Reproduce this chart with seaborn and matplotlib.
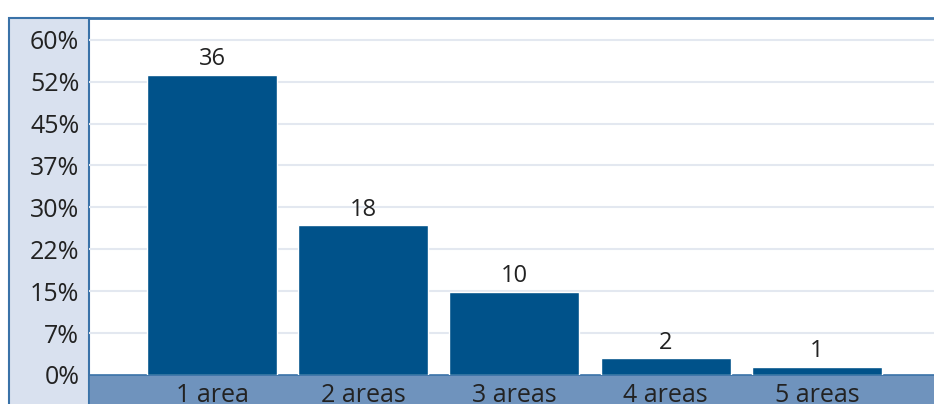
import pandas as pd
import numpy as np
import matplotlib.pyplot as plt
import matplotlib.patches as mpatches
import seaborn as sns

# data
categories = ["1 area", "2 areas", "3 areas", "4 areas", "5 areas"]
counts = [36, 18, 10, 2, 1]
total = 67
percents = [c / total * 100 for c in counts]
tick_vals = [0, 7.5, 15, 22.5, 30, 37.5, 45, 52.5, 60]
tick_labels = ["0%", "7%", "15%", "22%", "30%", "37%", "45%", "52%", "60%"]

df = pd.DataFrame({"Areas": categories, "Percent": percents, "Count": counts})

sns.set_style("white")
plt.rcParams['font.family'] = ['Open Sans', 'DejaVu Sans']

W, H = 934, 404
fig = plt.figure(figsize=(W / 100, H / 100), dpi=100)

bar_col = "#00528A"
panel_col = "#D9E1EF"
band_col = "#6F93BD"
edge_col = "#3A72A8"
text_col = "#222222"

def fx(px):
    return px / W

def fy(py):
    return 1 - py / H

# left light panel with tick labels
fig.patches.append(mpatches.Rectangle((fx(9), fy(420)), fx(80), (420 - 18) / H,
                                      transform=fig.transFigure, facecolor=panel_col,
                                      edgecolor=edge_col, linewidth=1.5, zorder=-2))
# bottom band behind x labels
fig.patches.append(mpatches.Rectangle((fx(89), fy(420)), fx(900), (420 - 375) / H,
                                      transform=fig.transFigure, facecolor=band_col,
                                      edgecolor=edge_col, linewidth=1.2, zorder=-2))

ax = fig.add_axes([fx(89), fy(375), fx(960 - 89), (375 - 18) / H])
ax.patch.set_alpha(0)

sns.barplot(data=df, x="Areas", y="Percent", color=bar_col, width=0.86,
            saturation=1, ax=ax, zorder=3)

ax.set_xlim(-0.813, 4.946)
ax.set_ylim(0, 63.9)
ax.set_yticks(tick_vals)
ax.set_yticklabels(tick_labels, fontsize=18, color=text_col)
for v in tick_vals[1:]:
    ax.axhline(v, color="#E3E8F0", linewidth=1.5, zorder=1)

ax.tick_params(axis="y", length=0, pad=7)
ax.tick_params(axis="x", length=0, pad=6, labelsize=18, labelcolor=text_col)
ax.set_xlabel("")
ax.set_ylabel("")
for s in ["left", "right", "bottom"]:
    ax.spines[s].set_visible(False)
ax.spines["top"].set_color(edge_col)
ax.spines["top"].set_linewidth(2)

for i, (p, c) in enumerate(zip(percents, counts)):
    ax.text(i, p + 0.6, str(c), ha="center", va="bottom", fontsize=17, color=text_col)

fig.savefig("out.png", dpi=100)
